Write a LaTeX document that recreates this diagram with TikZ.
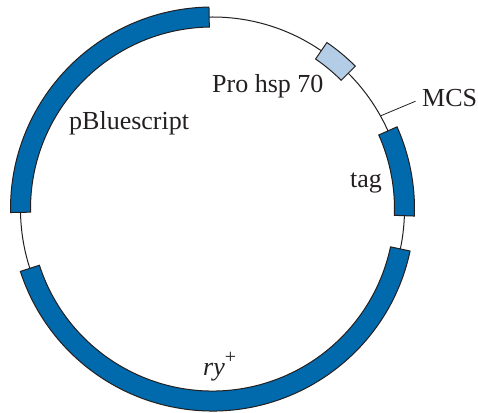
\documentclass[tikz,border=0pt]{standalone}
\usepackage{fontspec}
\setmainfont{Liberation Serif}
\definecolor{plasmidBlue}{HTML}{006AAC}
\definecolor{plasmidPale}{HTML}{B3CDE6}
\definecolor{plasmidInk}{HTML}{231F20}
\usetikzlibrary{arrows.meta, positioning, calc}

% one segment of the ring, between two angles
\newcommand{\ringpart}[3]{%
  \draw[#3] (#1:182) arc[start angle=#1, end angle=#2, radius=182]
    -- (#2:202) arc[start angle=#2, end angle=#1, radius=202] -- cycle;}

\begin{document}
\begin{tikzpicture}[
    x=1pt, y=1pt,
    ring/.style={draw=plasmidInk, line width=1pt},
    gene/.style={fill=plasmidBlue, draw=plasmidInk, line width=1pt},
    promo/.style={fill=plasmidPale, draw=plasmidInk, line width=1pt},
    lbl/.style={inner sep=0pt, anchor=base west, text=plasmidInk, font=\fontsize{26}{30}\selectfont},
  ]
    \useasboundingbox (-212.5,-203) rectangle (265.5,209);

    % backbone
    \draw[ring] (0,0) circle[radius=192];

    % segments
    \ringpart{91}{181}{gene}
    \ringpart{198}{348}{gene}
    \ringpart{-2}{24}{gene}
    \ringpart{45}{55.5}{promo}

    % labels
    \node[lbl] (pro) at (-0.5,116) {Pro hsp 70};
    \node[lbl] (pbs) at (-143.5,79) {pBluescript};
    \node[lbl] (tag) at (137.5,22) {tag};
    \node[lbl] (ry) at (-9.5,-166) {\textit{ry}\raisebox{0.45em}{\fontsize{20}{22}\selectfont +}};
    \node[lbl] (mcs) at (209.5,102) {MCS};

    % MCS marker
    \coordinate (mcspt) at (29:192);
    \draw[plasmidInk, line width=0.8pt, shorten >=7pt] (mcspt) -- (mcs.west);
\end{tikzpicture}
\end{document}
